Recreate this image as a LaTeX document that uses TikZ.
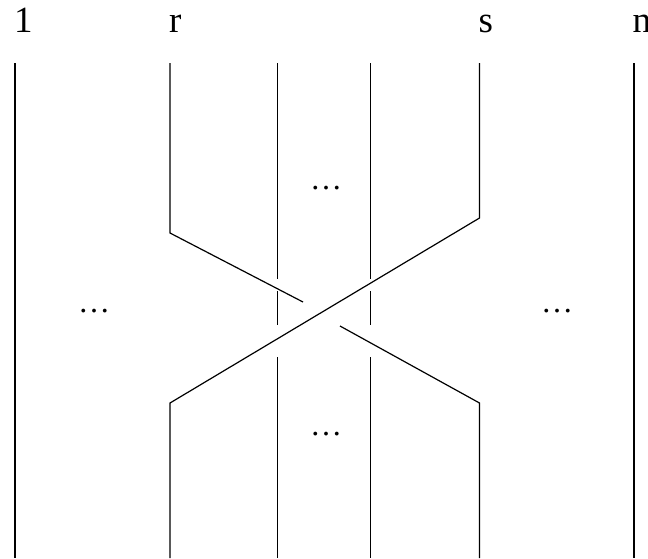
\documentclass[tikz,border=0pt]{standalone}
\usepackage{fontspec}
\setmainfont{Liberation Serif}
\begin{document}
\begin{tikzpicture}[x=1pt,y=-1pt,
  strand/.style={line width=1.2pt,black},
  lbl/.style={anchor=base west,inner sep=0pt,font=\fontsize{37}{40}\selectfont},
  dots/.style={inner sep=0pt,font=\fontsize{32}{34}\selectfont}]
\useasboundingbox (0,0) rectangle (648,558);
% labels
\node[lbl] (l1) at (14,32) {1};
\node[lbl] (lr) at (169,32) {r};
\node[lbl] (ls) at (478.5,32) {s};
\node[lbl] (ln) at (632.5,32) {n};
% coordinates
\coordinate (a1) at (15,63);   \coordinate (a2) at (15,558);
\coordinate (b1) at (634,63);  \coordinate (b2) at (634,558);
\coordinate (rt) at (170,63);  \coordinate (rk) at (170,233);
\coordinate (re1) at (303,302);\coordinate (re2) at (340,326);
\coordinate (rk2) at (479.5,403); \coordinate (rb) at (479.5,558);
\coordinate (st) at (479.5,63); \coordinate (sk) at (479.5,218);
\coordinate (sk2) at (170,403); \coordinate (sb) at (170,558);
\coordinate (p1) at (277.5,63); \coordinate (p2) at (277.5,279);
\coordinate (p3) at (277.5,291); \coordinate (p4) at (277.5,325);
\coordinate (p5) at (277.5,357); \coordinate (p6) at (277.5,558);
\coordinate (q1) at (370.5,63); \coordinate (q2) at (370.5,279);
\coordinate (q3) at (370.5,291); \coordinate (q4) at (370.5,325);
\coordinate (q5) at (370.5,357); \coordinate (q6) at (370.5,558);
% strands
\draw[strand] (a1) -- (a2);
\draw[strand] (b1) -- (b2);
\draw[strand] (p1) -- (p2) (p3) -- (p4) (p5) -- (p6);
\draw[strand] (q1) -- (q2) (q3) -- (q4) (q5) -- (q6);
\draw[strand] (rt) -- (rk) -- (re1);
\draw[strand] (re2) -- (rk2) -- (rb);
\draw[strand] (st) -- (sk) -- (sk2) -- (sb);
% dots
\node[dots] (d1) at (94,311) {…};
\node[dots] (d2) at (326,188) {…};
\node[dots] (d3) at (326,434) {…};
\node[dots] (d4) at (557,311) {…};
\end{tikzpicture}
\end{document}
